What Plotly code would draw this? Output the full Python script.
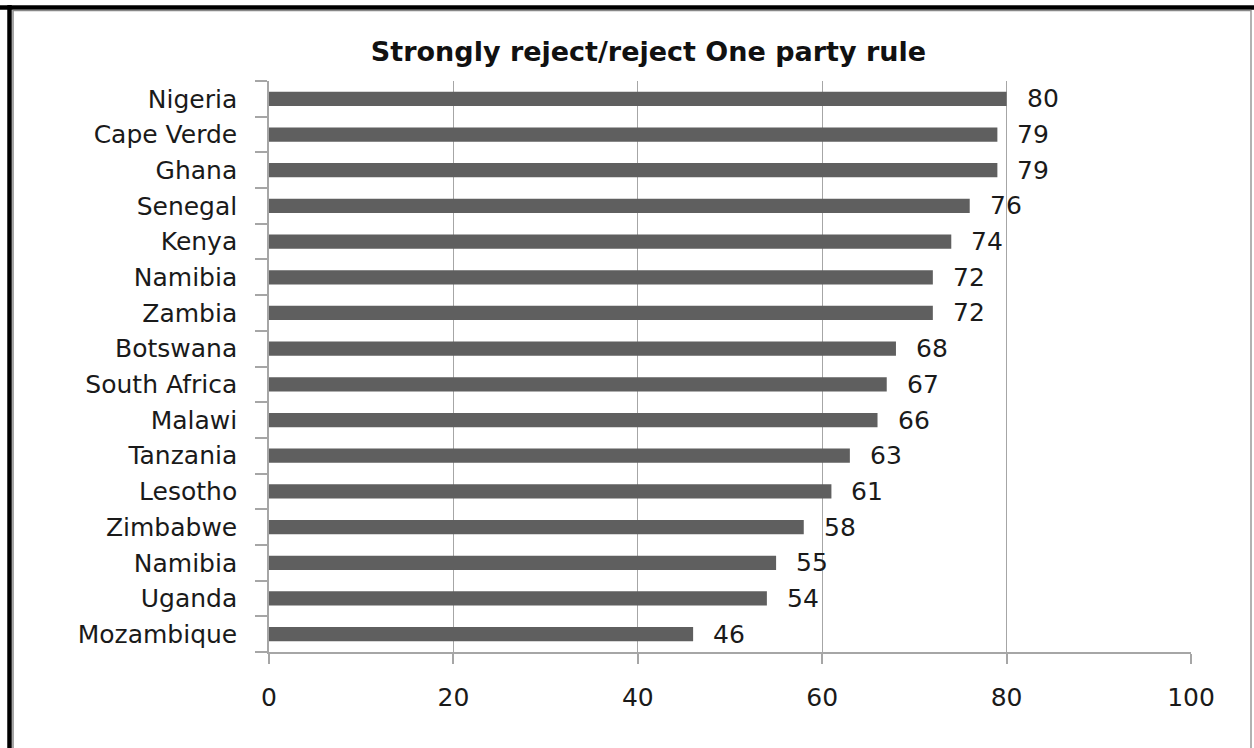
import plotly.graph_objects as go

countries = ["Nigeria", "Cape Verde", "Ghana", "Senegal", "Kenya", "Namibia", "Zambia",
             "Botswana", "South Africa", "Malawi", "Tanzania", "Lesotho", "Zimbabwe",
             "Namibia", "Uganda", "Mozambique"]
values = [80, 79, 79, 76, 74, 72, 72, 68, 67, 66, 63, 61, 58, 55, 54, 46]
x_ticks = [0, 20, 40, 60, 80, 100]
title = "Strongly reject/reject One party rule"

n = len(countries)
ypos = list(range(n))

FONT = "DejaVu Sans"
TXT = "#1a1a1a"
GRID = "#a6a6a6"

fig = go.Figure()
fig.add_trace(go.Bar(
    x=values, y=ypos, orientation="h",
    marker=dict(color="#5f5f5f", line=dict(width=0)),
    width=0.4, hoverinfo="skip",
))

for v, y in zip(values, ypos):
    fig.add_annotation(x=v, y=y, xref="x", yref="y", text=str(v), showarrow=False,
                       xanchor="left", yanchor="middle", xshift=18,
                       font=dict(family=FONT, size=25, color=TXT))

fig.update_layout(
    width=1254, height=748,
    margin=dict(l=269, r=63, t=81, b=96),
    paper_bgcolor="white", plot_bgcolor="white",
    showlegend=False,
    title=dict(text="<b>" + title + "</b>", x=(372 + 925) / 2 / 1254, xanchor="center",
               y=1 - 52 / 748, yanchor="middle",
               font=dict(family=FONT, size=27, color="#111")),
    xaxis=dict(range=[0, 100], tickmode="array", tickvals=x_ticks,
               ticktext=[str(t) for t in x_ticks],
               showgrid=True, gridcolor=GRID, gridwidth=1,
               showline=True, linecolor=GRID, linewidth=1.5,
               ticks="outside", ticklen=10, tickcolor=GRID, tickwidth=1.5,
               ticklabelstandoff=12,
               tickfont=dict(family=FONT, size=25, color=TXT),
               zeroline=False, fixedrange=True),
    yaxis=dict(range=[n - 0.5, -0.5], tickmode="array", tickvals=ypos, ticktext=countries,
               showgrid=False, showline=True, linecolor=GRID, linewidth=1.5,
               ticks="", ticklabelstandoff=25,
               tickfont=dict(family=FONT, size=25, color=TXT),
               minor=dict(tickmode="array", tickvals=[i - 0.5 for i in range(n + 1)],
                          ticks="outside", ticklen=12, tickcolor=GRID, tickwidth=1.5,
                          showgrid=False),
               zeroline=False, fixedrange=True),
)

# Frame around the picture
def px_x(p):
    return (p - 269) / (1254 - 269 - 63)

def px_y(p):
    return (748 - 96 - p) / (748 - 81 - 96)

fig.add_shape(type="line", xref="paper", yref="paper", x0=px_x(0), x1=px_x(1254),
              y0=px_y(7.5), y1=px_y(7.5), line=dict(color="black", width=4.5), layer="above")
fig.add_shape(type="line", xref="paper", yref="paper", x0=px_x(9.5), x1=px_x(9.5),
              y0=px_y(5), y1=px_y(748), line=dict(color="black", width=4.5), layer="above")
fig.add_shape(type="line", xref="paper", yref="paper", x0=px_x(13), x1=px_x(13),
              y0=px_y(10), y1=px_y(748), line=dict(color="#888", width=1.5), layer="above")
fig.add_shape(type="line", xref="paper", yref="paper", x0=px_x(13), x1=px_x(1251),
              y0=px_y(10.5), y1=px_y(10.5), line=dict(color="#888", width=1.5), layer="above")
fig.add_shape(type="line", xref="paper", yref="paper", x0=px_x(1251), x1=px_x(1251),
              y0=px_y(10), y1=px_y(748), line=dict(color="#999", width=1.5), layer="above")

fig.write_html("out.html",
               config={"displayModeBar": False},
               post_script="document.body.style.margin='0';document.body.style.padding='0';"
                           "document.body.style.overflow='hidden';")
